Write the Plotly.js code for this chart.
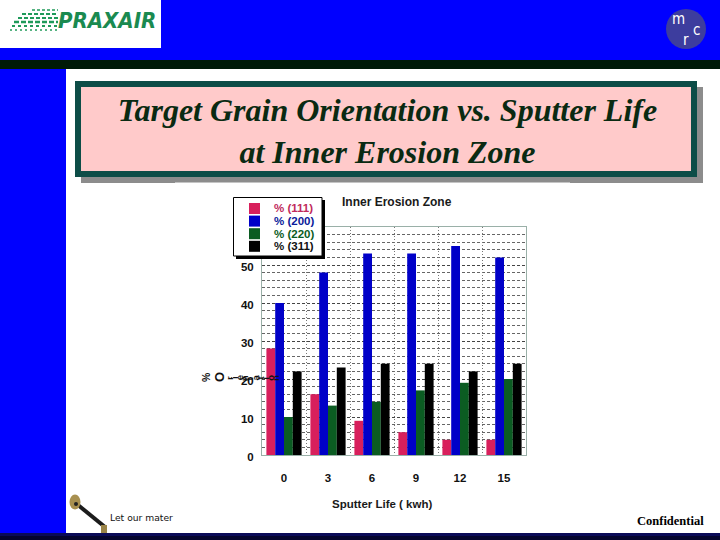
<!DOCTYPE html>
<html><head><meta charset="utf-8">
<script src="https://cdn.plot.ly/plotly-3.0.1.min.js"></script>
<style>html,body{margin:0;padding:0;background:#fff}#c{width:720px;height:540px}</style></head>
<body><div id="c"></div>
<script>
const categories = ['0','3','6','9','12','15'];
const seriesNames = ['% (111)','% (200)','% (220)','% (311)'];
const seriesColors = ['#d81f5c','#0000c8','#0b5c22','#000000'];
const textColors = ['#c02a5c','#0a1a9a','#0b5c22','#111111'];
const v111 = [28,16,9,6,4,4];
const v200 = [40,48,53,53,55,52];
const v220 = [10,13,14,17,19,20];
const v311 = [22,23,24,24,22,24];
const allValues = [v111,v200,v220,v311];
const slideTitle = 'Target Grain Orientation vs. Sputter Life<br>at Inner Erosion Zone';
const chartTitle = 'Inner Erosion Zone';
const xTitle = 'Sputter Life ( kwh)';

const W=720,H=540;
const px=x=>x/W, py=y=>1-y/H;
const SANS='Liberation Sans, Arial, sans-serif', SERIF='Liberation Serif, Times New Roman, serif', COND='DejaVu Sans Condensed, DejaVu Sans';
const rect=(x0,y0,x1,y1,fill,line,lw,layer)=>({type:'rect',xref:'paper',yref:'paper',x0:px(x0),x1:px(x1),y0:py(y0),y1:py(y1),fillcolor:fill,line:{color:line||fill,width:lw||0},layer:layer||'below'});
const seg=(x0,y0,x1,y1,color,w,dash,layer)=>({type:'line',xref:'paper',yref:'paper',x0:px(x0),x1:px(x1),y0:py(y0),y1:py(y1),line:{color,width:w,dash:dash||'solid'},layer:layer||'below'});
const circ=(cx,cy,rx,ry,fill,layer)=>({type:'circle',xref:'paper',yref:'paper',x0:px(cx-rx),x1:px(cx+rx),y0:py(cy+ry),y1:py(cy-ry),fillcolor:fill,line:{width:0},layer:layer||'below'});
const txt=(x,y,text,size,color,family,opts)=>Object.assign({xref:'paper',yref:'paper',x:px(x),y:py(y),text,showarrow:false,xanchor:'center',yanchor:'middle',font:{size,color,family},borderpad:0},opts||{});

const shapes=[
  rect(0,0,720,60,'#0000ff'),
  rect(0,0,161,48,'#ffffff'),
  rect(0,60,720,69,'#001a08'),
  rect(0,69,66,533,'#0000ff'),
  rect(0,533,720,536,'#0a0a58'),
  rect(0,536,720,540,'#04042e'),
  rect(81,87,703,183,'#8c8c8c'),
  seg(175,182.5,570,182.5,'#c4c4c4',1),
  rect(78,84,694,174,'#ffcaca','#0d4d47',6),
  circ(686,29,20,20,'#3d3d9e'),
  // logo speed lines
  seg(32,10,58,10,'#1f9a5a',1.5,'3px,2px'),
  seg(22,14,58,14,'#1f9a5a',2,'4px,2px'),
  seg(18,18,58,18,'#1f9a5a',2,'4px,2px'),
  seg(14,22,58,22,'#1f9a5a',2.5,'5px,2px'),
  seg(12,26,58,26,'#1f9a5a',2,'3px,3px'),
  seg(10,30,58,30,'#1f9a5a',1.5,'2px,3px'),
  // key
  seg(78,505,105,527,'#1c1c1c',4),
  circ(75,502,5.5,7.5,'#a89050'),
  circ(76,504,2,2,'#222222'),
  rect(101,525,107,533,'#9a8448'),
  // legend
  rect(236,200,325,259,'#000000',null,0,'above'),
  rect(233.5,197.5,322,256,'#ffffff','#000000',1,'above')
];
seriesNames.forEach((n,i)=>shapes.push(rect(249,203+i*12.6,260,214+i*12.6,seriesColors[i],null,0,'above')));

const annotations=[
  txt(106.5,21,'<b><i>PRAXAIR</i></b>',22,'#1a8a50',COND),
  txt(678.5,19.5,'m',15,'#ffffff',COND),
  txt(686,39.5,'r',15,'#ffffff',COND),
  txt(696,30,'c',15,'#ffffff',COND),
  txt(396.5,201.5,'<b>'+chartTitle+'</b>',12,'#1a1a1a',SANS),
  txt(382,504,'<b>'+xTitle+'</b>',11.5,'#1a1a1a',SANS),
  txt(206,377,'<b>%</b>',10.5,'#111',SANS,{textangle:-90}),
  txt(219,377,'<b>O</b>',13,'#111',SANS,{textangle:-90}),
  txt(141.5,517,'Let our mater',9.2,'#111','DejaVu Sans'),
  txt(670,520.5,'<b>Confidential</b>',12.5,'#000',SERIF)
];
[...'rientation'].forEach((ch,i)=>annotations.push(txt(229+i*5.1,378,'<b>'+ch+'</b>',9.5,'#111',SANS,{textangle:-90})));
seriesNames.forEach((n,i)=>annotations.push(txt(273,208.5+i*12.6,'<b>'+n+'</b>',11.5,textColors[i],SANS,{xanchor:'left'})));

const traces=allValues.map((vals,i)=>({type:'bar',x:categories,y:vals,name:seriesNames[i],marker:{color:seriesColors[i],line:{width:0}}}));

const layout={
  width:W,height:H,margin:{l:0,r:0,t:0,b:0},paper_bgcolor:'#ffffff',plot_bgcolor:'#ffffff',
  showlegend:false,barmode:'group',bargap:0.2,bargroupgap:0,
  title:{text:slideTitle,x:387.5/W,xanchor:'center',y:py(121),yanchor:'middle',font:{family:SERIF,size:32,color:'#0a2a12',style:'italic',weight:'bold'}},
  xaxis:{domain:[px(262),px(526)],type:'category',tickson:'boundaries',showgrid:true,griddash:'1px,2px',gridcolor:'#777',gridwidth:1,
    ticks:'outside',ticklen:15,ticklabelstandoff:12,tickcolor:'rgba(0,0,0,0)',tickfont:{family:SANS,size:11.5,color:'#111',weight:'bold'},
    showline:true,mirror:true,linecolor:'#9ab0a8',linewidth:1,zeroline:false},
  yaxis:{domain:[py(455),py(227)],range:[0,60],tickvals:[0,10,20,30,40,50],ticktext:['0','10','20','30','40','50'],
    showgrid:true,griddash:'3px,2px',gridcolor:'#444',gridwidth:1,
    minor:{dtick:2,showgrid:true,griddash:'3px,2px',gridcolor:'#666',gridwidth:1,ticks:''},
    ticks:'outside',ticklen:5,ticklabelshift:2,tickcolor:'rgba(0,0,0,0)',tickfont:{family:SANS,size:11.5,color:'#111',weight:'bold'},
    showline:true,mirror:true,linecolor:'#9ab0a8',linewidth:1,zeroline:false},
  shapes,annotations
};
Plotly.newPlot('c',traces,layout,{displayModeBar:false,staticPlot:true});
</script></body></html>
